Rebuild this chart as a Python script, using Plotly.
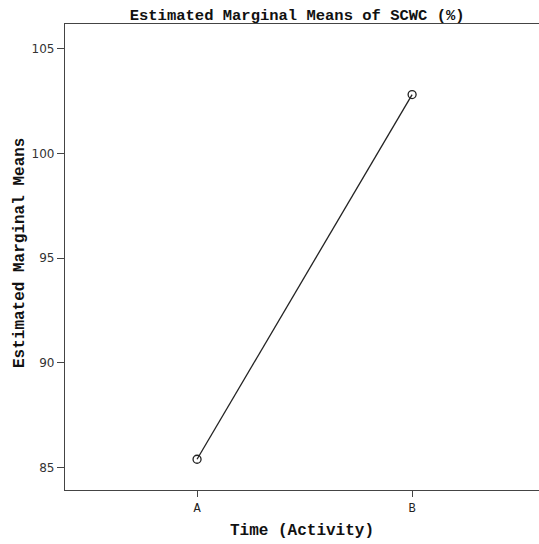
import plotly.graph_objects as go

categories = ["A", "B"]
means = [85.40, 102.82]
y_ticks = [85, 90, 95, 100, 105]

W, H = 539, 544
L, R, T, B = 65, 0, 24, 54
PW, PH = W - L - R, H - T - B

fig = go.Figure()
fig.add_trace(go.Scatter(
    x=[0, 1], y=means, mode="lines+markers",
    line=dict(color="#222222", width=1.3),
    marker=dict(symbol="circle-open", size=8, color="#222222", line=dict(width=1.3)),
    showlegend=False, cliponaxis=False,
))

mono = "Liberation Mono, Courier New, monospace"
fig.update_layout(
    width=W, height=H,
    margin=dict(l=L, r=R, t=T, b=B),
    paper_bgcolor="white", plot_bgcolor="white",
    title=dict(text="<b>Estimated Marginal Means of SCWC (%)</b>",
               x=264 / W, xanchor="center", xref="paper",
               y=1 - 15 / H, yanchor="middle", yref="container",
               font=dict(family=mono, size=15.5, color="#111111")),
    xaxis=dict(
        range=[-0.614, 1.59], tickvals=[0, 1], ticktext=categories,
        showgrid=False, zeroline=False, showline=True, linecolor="#444444", linewidth=1.3,
        mirror=True, ticks="outside", ticklen=6, tickcolor="#444444", tickwidth=1.3,
        tickfont=dict(family=mono, size=12, color="#222222"),
        title=dict(text="<b>Time (Activity)</b>", standoff=9,
                   font=dict(family=mono, size=16, color="#111111")),
    ),
    yaxis=dict(
        range=[83.93, 106.19], tickvals=y_ticks,
        showgrid=False, zeroline=False, showline=True, linecolor="#444444", linewidth=1.3,
        mirror=False, ticks="outside", ticklen=7, tickcolor="#444444", tickwidth=1.3,
        tickfont=dict(family="DejaVu Sans, sans-serif", size=12, color="#333333"),
    ),
    annotations=[dict(
        text="<b>Estimated Marginal Means</b>", textangle=-90,
        xref="paper", yref="paper",
        x=(20 - L) / PW, y=1 - (253 - T) / PH,
        xanchor="center", yanchor="middle", showarrow=False,
        font=dict(family=mono, size=16, color="#111111"),
    )],
)

fig.write_html("out.html")
